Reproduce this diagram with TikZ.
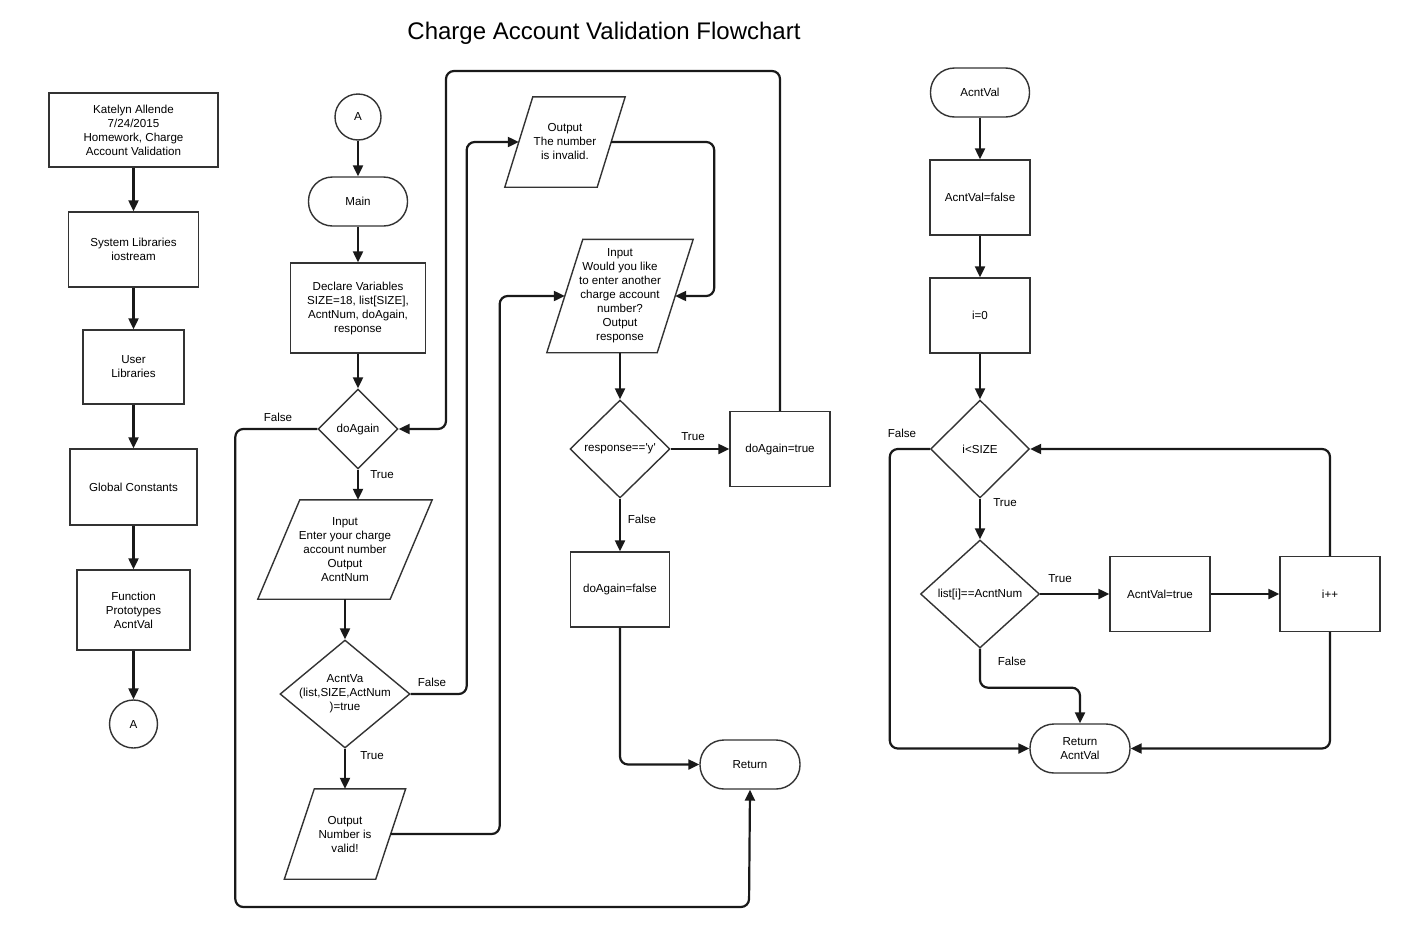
\documentclass[tikz,border=0pt]{standalone}
\usepackage{fontspec}
\setmainfont{Liberation Sans}
\usetikzlibrary{arrows.meta,shapes.geometric,calc}
\newcommand\parashape[2]{\draw[paraline] ([xshift=#2/2]#1.north west) -- ([xshift=#2/2]#1.north east) -- ([xshift=-#2/2]#1.south east) -- ([xshift=-#2/2]#1.south west) -- cycle;}
\tikzset{
  txtfont/.style={font=\fontsize{11.6}{14}\selectfont},
  shp/.style={draw=black!80, line width=1.4pt, fill=white, align=center, inner sep=0pt, txtfont},
  box/.style={shp, rectangle},
  term/.style={shp, rectangle, rounded corners=24pt, minimum height=49},
  dia/.style={shp, diamond},
  circ/.style={shp, circle},
  paratext/.style={rectangle, align=center, inner sep=0pt, txtfont},
  paraline/.style={draw=black!80, line width=1.4pt, line join=miter},
  conn/.style={draw=black!90, line width=2.2pt, rounded corners=8pt, -{Triangle[length=11pt,width=10pt]}},
  lbl/.style={txtfont, inner sep=0pt},
  dlabel/.style={align=center, txtfont, inner sep=0pt}
}
\begin{document}
\begin{tikzpicture}[x=1pt,y=-1pt]
\fill[white] (0,0) rectangle (1406,932);
\useasboundingbox (0,0) rectangle (1406,932);

% title
\node[font=\fontsize{24}{28}\selectfont] (title) at (604,33) {Charge Account Validation Flowchart};

% left column
\node[box, minimum width=169, minimum height=74] (k) at (133.5,130) {Katelyn Allende\\7/24/2015\\Homework, Charge\\Account Validation};
\node[box, minimum width=130, minimum height=75] (sl) at (133.5,249.5) {System Libraries\\iostream};
\node[box, minimum width=101, minimum height=74] (ul) at (133.5,367) {User\\Libraries};
\node[box, minimum width=127, minimum height=76] (gc) at (133.5,487) {Global Constants};
\node[box, minimum width=113, minimum height=80] (fp) at (133.5,610) {Function\\Prototypes\\AcntVal};
\node[circ, minimum size=48] (a1) at (133.5,724) {A};

\draw[conn] (k) -- (sl);
\draw[conn] (sl) -- (ul);
\draw[conn] (ul) -- (gc);
\draw[conn] (gc) -- (fp);
\draw[conn] (fp) -- (a1);

% middle
\node[circ, minimum size=46] (a2) at (358,117) {A};
\node[term, minimum width=99] (main) at (358,201.5) {Main};
\node[box, minimum width=135, minimum height=90] (decl) at (358,308) {Declare Variables\\SIZE=18, list[SIZE],\\AcntNum, doAgain,\\response};
\node[dia, minimum width=80, minimum height=80, label={[dlabel]center:doAgain}] (da) at (358,429) {};
\node[paratext, minimum width=132, minimum height=99] (inp) at (345,549.5) {Input\\Enter your charge\\account number\\Output\\AcntNum};
\parashape{inp}{42}
\node[dia, minimum width=130, minimum height=108, label={[dlabel]center:AcntVa\\(list,SIZE,ActNum\\)=true}] (av) at (345,694) {};
\node[paratext, minimum width=91, minimum height=90] (ov) at (345,834) {Output\\Number is\\valid!};
\parashape{ov}{30}
\node[paratext, minimum width=92, minimum height=90] (oi) at (565,142) {Output\\The number\\is invalid.};
\parashape{oi}{28}
\node[paratext, minimum width=110, minimum height=113] (iw) at (620,296) {Input\\Would you like\\to enter another\\charge account\\number?\\Output\\response};
\parashape{iw}{36}
\node[dia, minimum width=100, minimum height=98, label={[dlabel]center:response==\textquotesingle y\textquotesingle}] (rd) at (620,449) {};
\node[box, minimum width=100, minimum height=75] (dt) at (780,449) {doAgain=true};
\node[box, minimum width=99, minimum height=75] (df) at (620,589.5) {doAgain=false};
\node[term, minimum width=100] (ret) at (750,764.5) {Return};

\draw[conn] (a2) -- (main);
\draw[conn] (main) -- (decl);
\draw[conn] (decl) -- (da);
\draw[conn] (da.south) -- (da.south |- inp.north);
\draw[conn] (inp.south) -- (av.north);
\draw[conn] (av.south) -- (ov.north);
\draw[conn] (da.west) -- ++(-82,0) |- (749,907) -- (ret.south);
\draw[conn] (av.east) -- ++(56,0) |- (oi.west);
\draw[conn] (ov.east) -- ++(109,0) |- (iw.west);
\draw[conn] (oi.east) -- ++(103,0) |- (iw.east);
\draw[conn] (iw.south) -- (rd.north);
\draw[conn] (rd.east) -- (rd.east -| dt.west);
\draw[conn] (rd.south) -- (df.north);
\draw[conn] (dt.north) |- (446,71) |- (da.east);
\draw[conn] (df.south) |- (ret.west);

\node[lbl] (l1) at (278,417) {False};
\node[lbl] (l2) at (382,475) {True};
\node[lbl] (l3) at (432,682) {False};
\node[lbl] (l4) at (372,756) {True};
\node[lbl] (l5) at (693,437) {True};
\node[lbl] (l6) at (642,519) {False};

% right
\node[term, minimum width=99] (av0) at (980,92.5) {AcntVal};
\node[box, minimum width=100, minimum height=75] (avf) at (980,197.5) {AcntVal=false};
\node[box, minimum width=100, minimum height=75] (i0) at (980,315.5) {i=0};
\node[dia, minimum width=99, minimum height=98, label={[dlabel]center:i<SIZE}] (is) at (980,449) {};
\node[dia, minimum width=119, minimum height=108, label={[dlabel]center:list[i]==AcntNum}] (ld) at (980,594) {};
\node[box, minimum width=100, minimum height=75] (avt) at (1160,594) {AcntVal=true};
\node[box, minimum width=100, minimum height=75] (ipp) at (1330,594) {i++};
\node[term, minimum width=100] (rav) at (1080,748.5) {Return\\AcntVal};

\draw[conn] (av0) -- (avf);
\draw[conn] (avf) -- (i0);
\draw[conn] (i0) -- (is);
\draw[conn] (is) -- (ld);
\draw[conn] (is.west) -- ++(-40,0) |- (rav.west);
\draw[conn] (ld.east) -- (ld.east -| avt.west);
\draw[conn] (avt.east) -- (avt.east -| ipp.west);
\draw[conn] (ipp.north) |- (is.east);
\draw[conn] (ipp.south) |- (rav.east);
\draw[conn] (ld.south) -- ++(0,39) -| (rav.north);

\node[lbl] (l7) at (902,433) {False};
\node[lbl] (l8) at (1005,503) {True};
\node[lbl] (l9) at (1060,579) {True};
\node[lbl] (l10) at (1012,661) {False};
\end{tikzpicture}
\end{document}
